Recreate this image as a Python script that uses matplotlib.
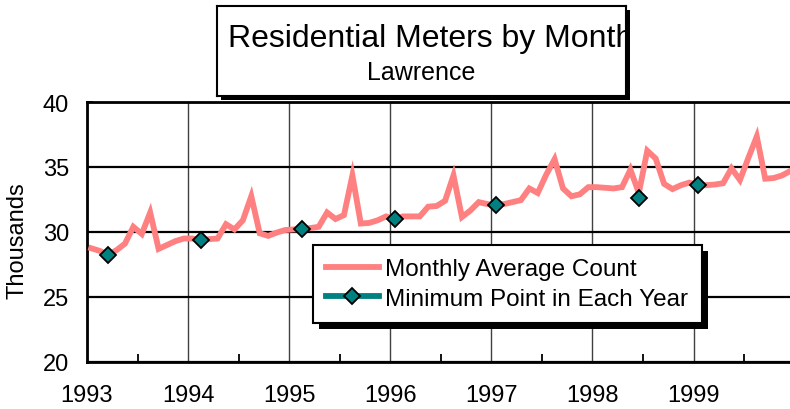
import matplotlib
matplotlib.use("Agg")
import matplotlib.pyplot as plt
from matplotlib.lines import Line2D
from matplotlib.patches import Rectangle
from matplotlib.ticker import MultipleLocator

plt.rcParams['font.family'] = ['Liberation Sans', 'DejaVu Sans']

# ---- data ----
years = [1993, 1994, 1995, 1996, 1997, 1998, 1999]
monthly_1993 = [28.75, 28.55, 28.25, 28.6, 29.1, 30.4, 29.85, 31.5, 28.7, 29.0, 29.3, 29.5]
monthly_1994 = [29.5, 29.35, 29.45, 29.5, 30.6, 30.2, 30.9, 32.75, 29.9, 29.7, 29.95, 30.15]
monthly_1995 = [30.2, 30.2, 30.3, 30.4, 31.5, 31.0, 31.3, 34.35, 30.65, 30.7, 30.9, 31.2]
monthly_1996 = [31.0, 31.2, 31.2, 31.2, 31.95, 32.0, 32.4, 34.35, 31.15, 31.65, 32.3, 32.15]
monthly_1997 = [32.05, 32.15, 32.3, 32.45, 33.35, 33.0, 34.4, 35.6, 33.35, 32.75, 32.9, 33.45]
monthly_1998 = [33.45, 33.4, 33.35, 33.45, 34.8, 33.0, 36.25, 35.65, 33.7, 33.3, 33.6, 33.8]
monthly_1999 = [33.6, 33.6, 33.65, 33.75, 34.9, 34.0, 35.7, 37.35, 34.1, 34.15, 34.35, 34.7]
monthly_by_year = [monthly_1993, monthly_1994, monthly_1995, monthly_1996,
                   monthly_1997, monthly_1998, monthly_1999]

min_years = [1993, 1994, 1995, 1996, 1997, 1998, 1999]
min_months = [3, 2, 2, 1, 1, 6, 1]
min_values = [28.25, 29.35, 30.2, 31.0, 32.05, 32.65, 33.6]

title = "Residential Meters by Month"
subtitle = "Lawrence"
ylabel = "Thousands"
series_labels = ["Monthly Average Count", "Minimum Point in Each Year"]
yticks = [20, 25, 30, 35, 40]

# ---- derived x positions (mid-month) ----
mx, my = [], []
for y, vals in zip(years, monthly_by_year):
    for m, v in enumerate(vals, start=1):
        mx.append(y + (m - 0.5) / 12)
        my.append(v)
minx = [y + (m - 0.5) / 12 for y, m in zip(min_years, min_months)]

W, H = 790, 410
fig = plt.figure(figsize=(W / 100, H / 100), dpi=100)

def fx(px):
    return px / W

def fy(py):
    return (H - py) / H

# main axes: left 87, top 103, bottom 363, 101.1 px/year
left, top, bottom = 87, 103, 363
right = left + 7 * 101.1
ax = fig.add_axes([fx(left), fy(bottom), (right - left) / W, (bottom - top) / H])
ax.set_zorder(1)

salmon = '#FF8080'
teal = '#008080'
ax.plot(mx, my, color=salmon, lw=4.2, solid_joinstyle='miter', zorder=3, clip_on=False)
ax.plot(minx, min_values, linestyle='none', marker='D', ms=8, mfc=teal,
        mec='black', mew=1.3, zorder=4)

ax.set_xlim(1993, 2000)
ax.set_ylim(20, 40)
ax.set_yticks(yticks)
ax.set_xticks(years)
ax.xaxis.set_minor_locator(MultipleLocator(0.5))
ax.tick_params(axis='x', which='major', direction='in', length=0, pad=16, labelsize=17)
ax.tick_params(axis='x', which='minor', direction='in', length=6, width=1.3, color='black')
ax.tick_params(axis='y', which='major', direction='in', length=4, width=1.3, pad=13, labelsize=17)

ax.grid(axis='x', which='major', color='#404040', lw=1.0, zorder=1)
ax.grid(axis='y', which='major', color='black', lw=1.6, zorder=1)
ax.set_axisbelow(True)
for s in ['left', 'bottom', 'top']:
    ax.spines[s].set_linewidth(2)
    ax.spines[s].set_color('black')
ax.spines['right'].set_visible(False)

fig.text(fx(18), fy(241), ylabel, rotation=90, ha='center', va='center', fontsize=17)

# legend
h1 = Line2D([], [], color=salmon, lw=4.2)
h2 = Line2D([], [], color=teal, lw=4.2, marker='D', ms=8, mfc=teal, mec='black', mew=1.3)
leg = ax.legend([h1, h2], series_labels, loc='upper left',
                bbox_to_anchor=(fx(313), fy(246)), bbox_transform=fig.transFigure,
                borderaxespad=0, fontsize=17.5, frameon=True, fancybox=False,
                handlelength=2.15, handletextpad=0.28, borderpad=0.55,
                labelspacing=0.3, numpoints=1, framealpha=1)
leg.get_frame().set_edgecolor('black')
leg.get_frame().set_linewidth(1.5)
leg.set_zorder(6)

fig.canvas.draw()
bb = leg.get_window_extent()
sh = Rectangle((bb.x0 + 6, bb.y0 - 6), bb.width, bb.height, transform=None,
               facecolor='black', edgecolor='none', zorder=5.5)
ax.add_artist(sh)

# title box
tl, tr, tt, tb = 217, 626, 7, 97
shadow_t = Rectangle((fx(tl + 4), fy(tb + 4)), (tr - tl) / W, (tb - tt) / H,
                     transform=fig.transFigure, facecolor='black', edgecolor='none', zorder=2)
fig.patches.append(shadow_t)
tax = fig.add_axes([fx(tl), fy(tb), (tr - tl) / W, (tb - tt) / H])
tax.set_zorder(3)
tax.set_xticks([])
tax.set_yticks([])
for s in tax.spines.values():
    s.set_linewidth(1.5)
    s.set_color('black')
tax.set_facecolor('white')
tax.text((228 - tl) / (tr - tl), 0.65, title, ha='left', va='center', fontsize=23,
         transform=tax.transAxes, clip_on=True)
tax.text(0.5, 0.27, subtitle, ha='center', va='center', fontsize=18,
         transform=tax.transAxes, clip_on=True)

fig.savefig("out.png", dpi=100)
